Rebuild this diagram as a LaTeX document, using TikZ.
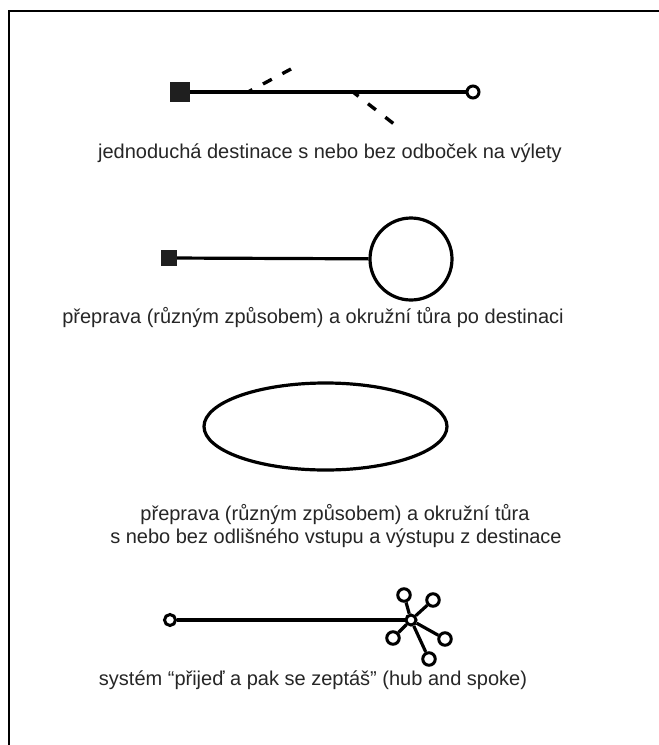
\documentclass[tikz,border=0pt]{standalone}
\usepackage{fontspec}
\setmainfont{Liberation Sans}
\usetikzlibrary{shapes.geometric}
\begin{document}
\begin{tikzpicture}[x=1pt,y=-1pt,
  mainline/.style={line width=3.2pt},
  sqbox/.style={fill=black!88, draw=none, inner sep=0pt},
  endc/.style={circle, draw, fill=white, line width=3pt, inner sep=0pt, minimum size=12pt},
  hubc/.style={circle, draw, fill=white, line width=3pt, inner sep=0pt, minimum size=12.5pt},
  bigc/.style={circle, draw, line width=3.2pt, inner sep=0pt},
  branch/.style={line width=3.4pt, dash pattern=on 10pt off 12pt},
  lbl/.style={font=\fontsize{20}{23.5}\selectfont, text=black!85, align=center, inner sep=0pt, anchor=base}
]
\useasboundingbox (0,0) rectangle (659,745);
\fill[white] (0,0) rectangle (659,745);
% frame
\draw[line width=2.6pt] (9,745) -- (9,11) -- (659,11);

% row 1
\node[sqbox, minimum size=20pt] (s1) at (180,92) {};
\node[endc] (e1) at (473,92) {};
\draw[mainline] (s1) -- (e1);
\coordinate (b1a) at (248,92);
\coordinate (b1b) at (291,69);
\coordinate (b2a) at (353,92);
\coordinate (b2b) at (394,124);
\draw[branch, dash phase=5pt] (b1a) -- (b1b);
\draw[branch, dash phase=3pt] (b2a) -- (b2b);
\node[lbl] (t1) at (330,158) {jednoduchá destinace s nebo bez odboček na výlety};

% row 2
\node[sqbox, minimum size=16pt] (s2) at (169,258) {};
\node[bigc, minimum size=82pt] (c2) at (411,259) {};
\draw[mainline] (s2) -- (c2);
\node[lbl] (t2) at (313,323) {přeprava (různým způsobem) a okružní tůra po destinaci};

% row 3
\node[ellipse, draw, line width=3.2pt, minimum width=243pt, minimum height=87pt, inner sep=0pt] (el) at (325.5,426.5) {};
\node[lbl] (t3a) at (335,520) {přeprava (různým způsobem) a okružní tůra};
\node[lbl] (t3b) at (336,543) {s nebo bez odlišného vstupu a výstupu z destinace};

% row 4
\node[endc, minimum size=11pt] (l4) at (170,620) {};
\node[hubc, minimum size=10pt] (hub) at (411,620) {};
\draw[mainline] (l4) -- (hub);
\node[hubc] (h1) at (404,595) {};
\node[hubc] (h2) at (433,600) {};
\node[hubc] (h3) at (393,638) {};
\node[hubc] (h4) at (445,639) {};
\node[hubc] (h5) at (429,659) {};
\foreach \n in {h1,h2,h3,h4,h5} \draw[mainline] (hub) -- (\n);
\node[lbl] (t4) at (313,685) {systém “přijeď a pak se zeptáš” (hub and spoke)};
\end{tikzpicture}
\end{document}
